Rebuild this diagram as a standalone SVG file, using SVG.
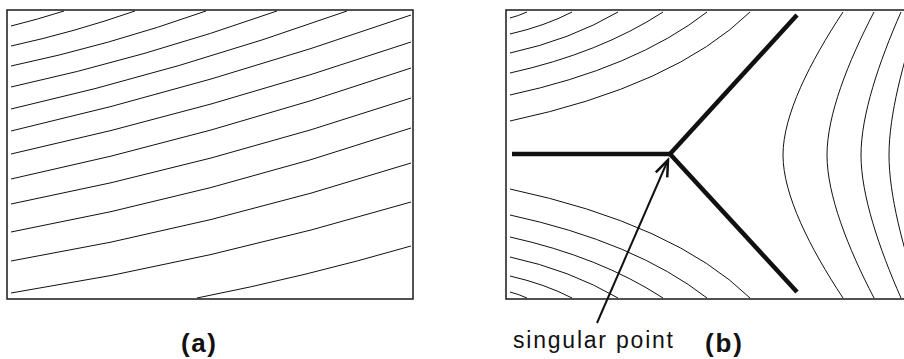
<svg xmlns="http://www.w3.org/2000/svg" width="904" height="359" viewBox="0 0 904 359">
<style>
.frame{fill:none;stroke:#1a1a1a;stroke-width:1.5}
.fl{fill:none;stroke:#111;stroke-width:1}
.thick{fill:none;stroke:#111;stroke-width:4.5;stroke-linecap:butt;stroke-linejoin:miter}
.arrow{fill:none;stroke:#111;stroke-width:2}
.lbl{font-family:"Liberation Sans",Arial,sans-serif;fill:#111}
.cap{font-family:"Liberation Sans",Arial,sans-serif;font-weight:bold;font-size:26px;fill:#111}
</style>
<defs>
<marker id="openhead" markerUnits="userSpaceOnUse" markerWidth="20" markerHeight="20" viewBox="-14 -8 16 16" refX="0" refY="0" orient="auto">
<path d="M-13,-5 L0,0 L-13,5" fill="none" stroke="#111" stroke-width="2"/>
</marker>
</defs>
<g id="panel-a">
<rect class="frame" x="7" y="10" width="406" height="289"/>
<g id="panel-a-lines">
<path class="fl" d="M11,26 Q37.5,19.5 64,11"/>
<path class="fl" d="M11,46 Q73,32.5 135,11"/>
<path class="fl" d="M11,66 Q108.5,45.5 206,11"/>
<path class="fl" d="M11,87 Q144,58 277,11"/>
<path class="fl" d="M11,109 Q179,71 347,11"/>
<path class="fl" d="M11,131 Q211,85 411,15"/>
<path class="fl" d="M11,154 Q211,110 411,42"/>
<path class="fl" d="M11,179 Q211,136.5 411,68"/>
<path class="fl" d="M11,204 Q211,165 411,98"/>
<path class="fl" d="M11,232 Q211,195 411,128"/>
<path class="fl" d="M11,261 Q211,227 411,163"/>
<path class="fl" d="M11,293 Q211,261.5 411,202"/>
<path class="fl" d="M197,298 Q304,277 411,246"/>
</g>
<text class="cap" x="181" y="352" textLength="35" lengthAdjust="spacing">(a)</text>
</g>
<g id="panel-b">
<rect class="frame" x="506" y="10" width="420" height="289"/>
<g id="panel-b-upper-left">
<path class="fl" d="M510,18 Q518,16 527,12"/>
<path class="fl" d="M510,34 Q545,26 572,12"/>
<path class="fl" d="M510,53 Q570,40 618,12"/>
<path class="fl" d="M510,73 Q600,53 663,12"/>
<path class="fl" d="M510,95 Q635,68 707,12"/>
<path class="fl" d="M510,121 Q674,86 750,12"/>
</g>
<g id="panel-b-lower-left">
<path class="fl" d="M510,292 Q518,294 527,298"/>
<path class="fl" d="M510,276 Q545,284 572,298"/>
<path class="fl" d="M510,257 Q570,270 618,298"/>
<path class="fl" d="M510,237 Q600,257 663,298"/>
<path class="fl" d="M510,215 Q635,242 707,298"/>
<path class="fl" d="M510,189 Q674,224 750,298"/>
</g>
<g id="panel-b-right">
<path class="fl" d="M843,12 C810,62 783,115 783,155 C783,195 810,248 843,298"/>
<path class="fl" d="M874,12 C848,62 827,115 827,155 C827,195 848,248 874,298"/>
<path class="fl" d="M901,12 C879,62 861,115 861,155 C861,195 879,248 901,298"/>
<path class="fl" d="M920,12 C903,62 889,115 889,155 C889,195 903,248 920,298"/>
</g>
<g id="singular-point">
<path class="thick" d="M512,154 L670,154"/>
<path class="thick" d="M670,154 L797,15"/>
<path class="thick" d="M670,154 L797,292"/>
</g>
<g id="connectors">
<path class="arrow" d="M597,323 L668,160" marker-end="url(#openhead)"/>
</g>
<text class="lbl" x="513" y="348" font-size="23" textLength="160" lengthAdjust="spacing">singular point</text>
<text class="cap" x="705" y="352" textLength="37" lengthAdjust="spacing">(b)</text>
</g>
</svg>
